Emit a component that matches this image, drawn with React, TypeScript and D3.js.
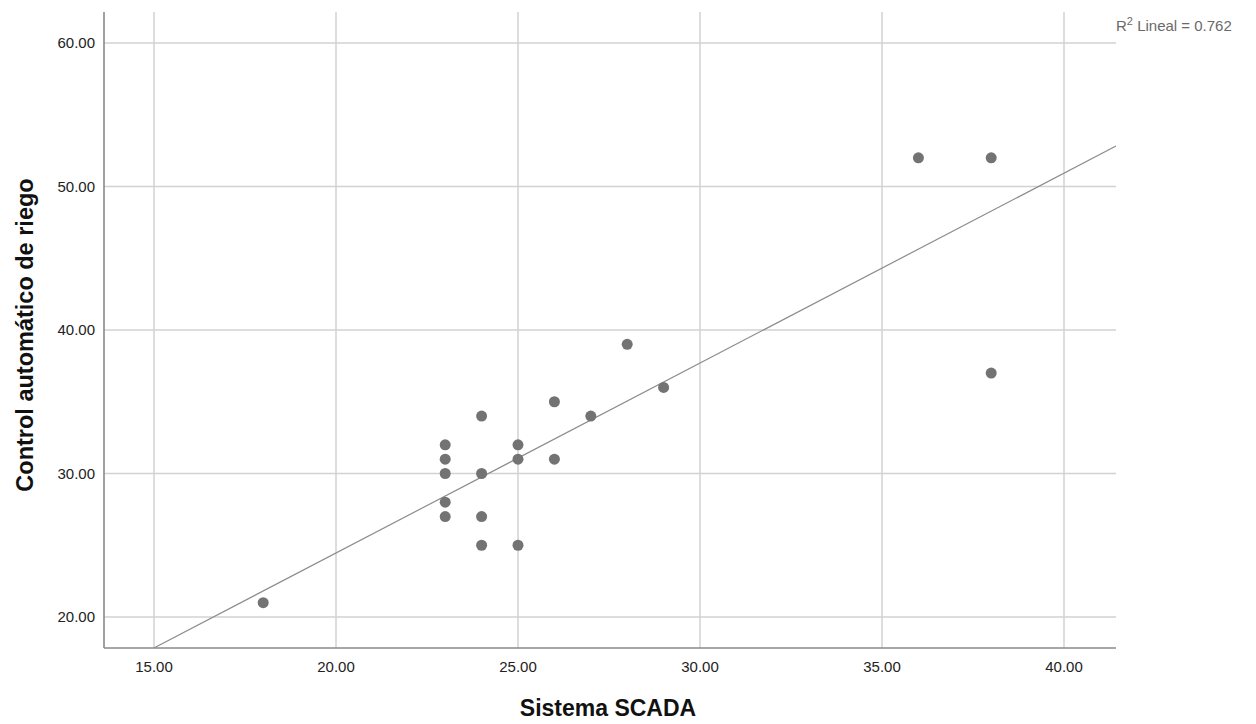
import React from "react";
import * as d3 from "d3";

const xValues = [18, 23, 23, 23, 23, 23, 24, 24, 24, 24, 25, 25, 25, 26, 26, 27, 28, 29, 36, 38, 38];
const yValues = [21, 32, 31, 30, 28, 27, 34, 30, 27, 25, 32, 31, 25, 35, 31, 34, 39, 36, 52, 52, 37];
const xTicks = [15, 20, 25, 30, 35, 40];
const yTicks = [20, 30, 40, 50, 60];
const fitIntercept = -2.01;
const fitSlope = 1.3235;
const r2Label = "0.762";
const xTitle = "Sistema SCADA";
const yTitle = "Control automático de riego";

const W = 1256;
const H = 724;
const left = 104;
const right = 1116;
const top = 12;
const bottom = 648;

export default function App() {
  const x = d3.scaleLinear().domain([15, 40]).range([154, 1064]);
  const y = d3.scaleLinear().domain([20, 60]).range([617, 43]);
  const xMin = x.invert(left);
  const xMax = x.invert(right);
  const fit = (v: number) => fitIntercept + fitSlope * v;
  const yMin = y.invert(bottom);
  const yMax = y.invert(top);
  let x0 = xMin, x1 = xMax;
  if (fit(x0) < yMin) x0 = (yMin - fitIntercept) / fitSlope;
  if (fit(x1) > yMax) x1 = (yMax - fitIntercept) / fitSlope;
  const line = d3.line<number>().x((d) => x(d)).y((d) => y(fit(d)));
  const fmt = d3.format(".2f");
  const font = "'Liberation Sans', Arial, sans-serif";

  return (
    <svg width={W} height={H} style={{ position: "absolute", left: 0, top: 0 }} fontFamily={font}>
      <rect x={0} y={0} width={W} height={H} fill="#fff" />
      {xTicks.map((t) => (
        <line key={"gx" + t} x1={x(t)} x2={x(t)} y1={top} y2={bottom} stroke="#d2d2d2" strokeWidth={1.5} />
      ))}
      {yTicks.map((t) => (
        <line key={"gy" + t} x1={left} x2={right} y1={y(t)} y2={y(t)} stroke="#d2d2d2" strokeWidth={1.5} />
      ))}
      <line x1={left} x2={left} y1={top} y2={bottom} stroke="#8a8a8a" strokeWidth={1.6} />
      <line x1={left} x2={right} y1={bottom} y2={bottom} stroke="#8a8a8a" strokeWidth={1.6} />
      <path d={line([x0, x1]) || ""} fill="none" stroke="#8c8c8c" strokeWidth={1.2} />
      {xValues.map((v, i) => (
        <circle key={"p" + i} cx={x(v)} cy={y(yValues[i])} r={5.5} fill="#737373" />
      ))}
      {yTicks.map((t) => (
        <text key={"ty" + t} x={95} y={y(t)} dy="0.35em" textAnchor="end" fontSize={15} fill="#222">
          {fmt(t)}
        </text>
      ))}
      {xTicks.map((t) => (
        <text key={"tx" + t} x={x(t)} y={672} textAnchor="middle" fontSize={15} fill="#222">
          {fmt(t)}
        </text>
      ))}
      <text x={608} y={716} textAnchor="middle" fontSize={23} fontWeight="bold" fill="#111">
        {xTitle}
      </text>
      <text
        transform={`translate(33, 335) rotate(-90)`}
        textAnchor="middle"
        fontSize={23.5}
        fontWeight="bold"
        fill="#111"
      >
        {yTitle}
      </text>
      <text x={1116} y={31} fontSize={15} fill="#6a6a6a">
        R<tspan dy={-6} fontSize={11}>2</tspan>
        <tspan dy={6}> Lineal = {r2Label}</tspan>
      </text>
    </svg>
  );
}
